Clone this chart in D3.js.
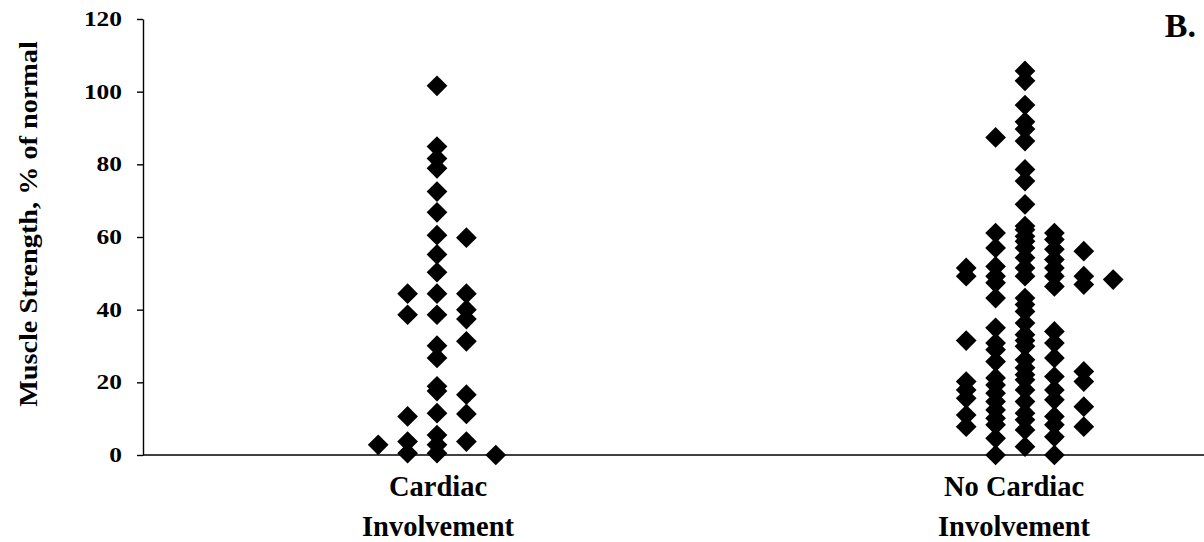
<!DOCTYPE html>
<html>
<head>
<meta charset="utf-8">
<script src="https://cdn.jsdelivr.net/npm/d3@7"></script>
<style>
  html, body { margin: 0; padding: 0; background: #fff; }
  svg { display: block; }
  text { font-family: "Liberation Serif", "Times New Roman", serif; font-weight: bold; fill: #000; }
</style>
</head>
<body>
<svg id="chart" width="1204" height="542"></svg>
<script>
// Group positions on the category axis (1 = cardiac, 2 = no cardiac)
const categories = ["Cardiac Involvement", "No Cardiac Involvement"];
const categoryLines = [["Cardiac", "Involvement"], ["No Cardiac", "Involvement"]];
const yTicks = [0, 20, 40, 60, 80, 100, 120];

// Cardiac involvement: x position (jittered around 1) and muscle strength %
const cardiacX = [1, 1, 1, 1, 1, 1, 1, 1, 1, 1, 1, 1, 1, 1, 1, 1, 1, 1, 1,
                  0.95, 0.95, 0.95, 0.95, 0.95,
                  1.05, 1.05, 1.05, 1.05, 1.05, 1.05, 1.05, 1.05,
                  0.9, 1.1];
const cardiacY = [101.6, 84.9, 81.6, 78.9, 72.5, 66.8, 60.5, 55.2, 50.3, 44.4, 38.6, 30.1, 26.7, 18.9, 17.6, 11.5, 5.5, 2.8, 0.5,
                  44.4, 38.6, 10.6, 3.7, 0.5,
                  59.8, 44.4, 40.0, 37.4, 31.3, 16.6, 11.3, 3.7,
                  2.8, 0];

// No cardiac involvement: x position (jittered around 2) and muscle strength %
const noCardiacX = [
  2, 2, 2, 2, 2, 2, 2, 2, 2, 2, 2, 2, 2, 2, 2, 2, 2, 2, 2, 2, 2, 2, 2, 2, 2, 2, 2, 2, 2, 2, 2, 2, 2, 2,
  1.95, 1.95, 1.95, 1.95, 1.95, 1.95, 1.95, 1.95, 1.95, 1.95, 1.95, 1.95, 1.95, 1.95, 1.95, 1.95, 1.95, 1.95, 1.95, 1.95,
  1.9, 1.9, 1.9, 1.9, 1.9, 1.9, 1.9, 1.9,
  2.05, 2.05, 2.05, 2.05, 2.05, 2.05, 2.05, 2.05, 2.05, 2.05, 2.05, 2.05, 2.05, 2.05, 2.05, 2.05, 2.05,
  2.1, 2.1, 2.1, 2.1, 2.1, 2.1, 2.1,
  2.15
];
const noCardiacY = [
  105.7, 103.0, 96.3, 91.7, 89.7, 86.4, 78.6, 75.4, 69.0, 63.0, 62.0, 60.2, 58.8, 57.0, 54.3, 51.5, 49.2, 43.2, 41.4, 39.5, 36.3, 33.1, 29.9, 26.2, 22.1, 20.7, 17.9, 14.7, 11.5, 9.7, 6.9, 2.3, 31.5, 24.0,
  87.4, 61.1, 57.0, 51.9, 49.2, 47.4, 43.2, 35.0, 30.8, 29.0, 25.7, 21.2, 19.3, 17.0, 14.7, 12.4, 10.1, 8.3, 4.6, 0,
  51.5, 49.2, 31.5, 20.2, 17.9, 15.6, 11.0, 7.8,
  61.1, 59.3, 56.6, 53.8, 51.5, 49.2, 46.4, 34.0, 30.8, 26.7, 21.6, 17.9, 15.2, 10.6, 8.3, 5.0, 0,
  56.1, 49.2, 46.9, 23.0, 20.2, 13.3, 7.8,
  48.3
];

const groups = [
  { xs: cardiacX, ys: cardiacY },
  { xs: noCardiacX, ys: noCardiacY }
];

const W = 1204, H = 542;
const plotLeft = 143, plotTop = 19, plotBottom = 455;

const x = d3.scaleLinear().domain([0.5, 2.5]).range([plotLeft, plotLeft + 2 * 588]);
const y = d3.scaleLinear().domain([0, 120]).range([plotBottom, plotTop]);

const svg = d3.select("#chart");

// Y axis with outward ticks; tick numbers drawn a little wide
const tickWiden = 1.27;
const yAxis = svg.append("g")
  .attr("transform", `translate(${plotLeft},0)`)
  .call(d3.axisLeft(y).tickValues(yTicks).tickSize(6).tickPadding(15).tickSizeOuter(0));
yAxis.select(".domain").attr("stroke", "#000").attr("stroke-width", 1.4);
yAxis.selectAll(".tick line").attr("stroke", "#000").attr("stroke-width", 1.4);
yAxis.selectAll(".tick text")
  .style("font-family", '"Liberation Serif", serif')
  .style("font-weight", "bold")
  .style("font-size", "20px")
  .attr("fill", "#000")
  .attr("x", -21 / tickWiden)
  .attr("transform", `scale(${tickWiden},1)`);

// X axis baseline, running to the right edge
svg.append("line")
  .attr("x1", plotLeft).attr("x2", W)
  .attr("y1", y(0)).attr("y2", y(0))
  .attr("stroke", "#000").attr("stroke-width", 1.4);

// Diamond markers
const diamond = d3.symbol().type(d3.symbolSquare).size(215);
groups.forEach(g => {
  svg.append("g").selectAll("path")
    .data(g.xs.map((v, i) => [v, g.ys[i]]))
    .join("path")
    .attr("d", diamond)
    .attr("transform", d => `translate(${x(d[0])},${y(d[1])}) rotate(45)`)
    .attr("fill", "#000");
});

// Category labels, two lines each
const labelShift = [1, -11];
categoryLines.forEach((lines, i) => {
  const cx = x(i + 1) + labelShift[i];
  lines.forEach((t, j) => {
    svg.append("text")
      .attr("x", cx)
      .attr("y", j === 0 ? 496 : 536)
      .attr("text-anchor", "middle")
      .style("font-size", "28.5px")
      .text(t);
  });
});

// Y axis title
svg.append("text")
  .attr("transform", `translate(37,224) rotate(-90) scale(1.13,1)`)
  .attr("text-anchor", "middle")
  .style("font-size", "25px")
  .text("Muscle Strength, % of normal");

// Panel letter
svg.append("text")
  .attr("x", 1196).attr("y", 37)
  .attr("text-anchor", "end")
  .style("font-size", "34px")
  .text("B.");
</script>
</body>
</html>
